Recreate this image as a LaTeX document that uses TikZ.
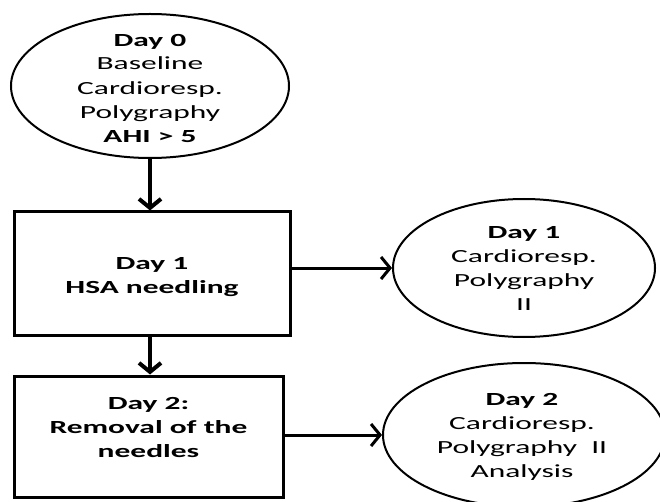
\documentclass[tikz,border=0pt]{standalone}
\usepackage{fontspec}
\setmainfont{Carlito}[FakeStretch=1.7]
\usetikzlibrary{shapes.geometric,arrows.meta}
\begin{document}
\begin{tikzpicture}[x=1pt,y=-1pt,
  oval/.style={draw,ellipse,line width=2pt,inner sep=0pt},
  stepbox/.style={draw,rectangle,line width=3pt,inner sep=0pt},
  txt/.style={align=center,font=\fontsize{18.5}{24}\selectfont,inner sep=0pt},
  arr/.style={-{Straight Barb[length=9pt,width=22pt]}},
  varr/.style={arr,line width=4pt},
  harr/.style={arr,line width=3pt}]
\useasboundingbox (0,0) rectangle (660,502);
\node[oval,minimum width=278pt,minimum height=144pt] (e0) at (150,86) {};
\node[txt] (t0) at (150,88) {\textbf{Day 0}\\Baseline\\Cardioresp.\\Polygraphy\\\textbf{AHI > 5}};
\node[stepbox,minimum width=276pt,minimum height=123pt] (b1) at (152,273.5) {};
\node[txt] (t1) at (152,277) {\textbf{Day 1}\\\textbf{HSA needling}};
\node[stepbox,minimum width=269pt,minimum height=121pt] (b2) at (148.5,436.5) {};
\node[txt] (t2) at (148.5,427) {\textbf{Day 2:}\\\textbf{Removal of the}\\\textbf{needles}};
\node[oval,minimum width=262pt,minimum height=138pt] (e1) at (524,268) {};
\node[txt] (t3) at (524,268) {\textbf{Day 1}\\Cardioresp.\\Polygraphy\\II};
\node[oval,minimum width=282pt,minimum height=144pt] (e2) at (524,435) {};
\node[txt] (t4) at (522,437) {\textbf{Day 2}\\Cardioresp.\\Polygraphy~~II\\Analysis};
\draw[varr] (e0.south) -- (e0.south |- b1.north);
\draw[varr] (e0.south |- b1.south) -- (e0.south |- b2.north);
\draw[harr] (b1.east |- e1.west) -- (e1.west);
\draw[harr] (b2.east |- e2.west) -- (e2.west);
\end{tikzpicture}
\end{document}
